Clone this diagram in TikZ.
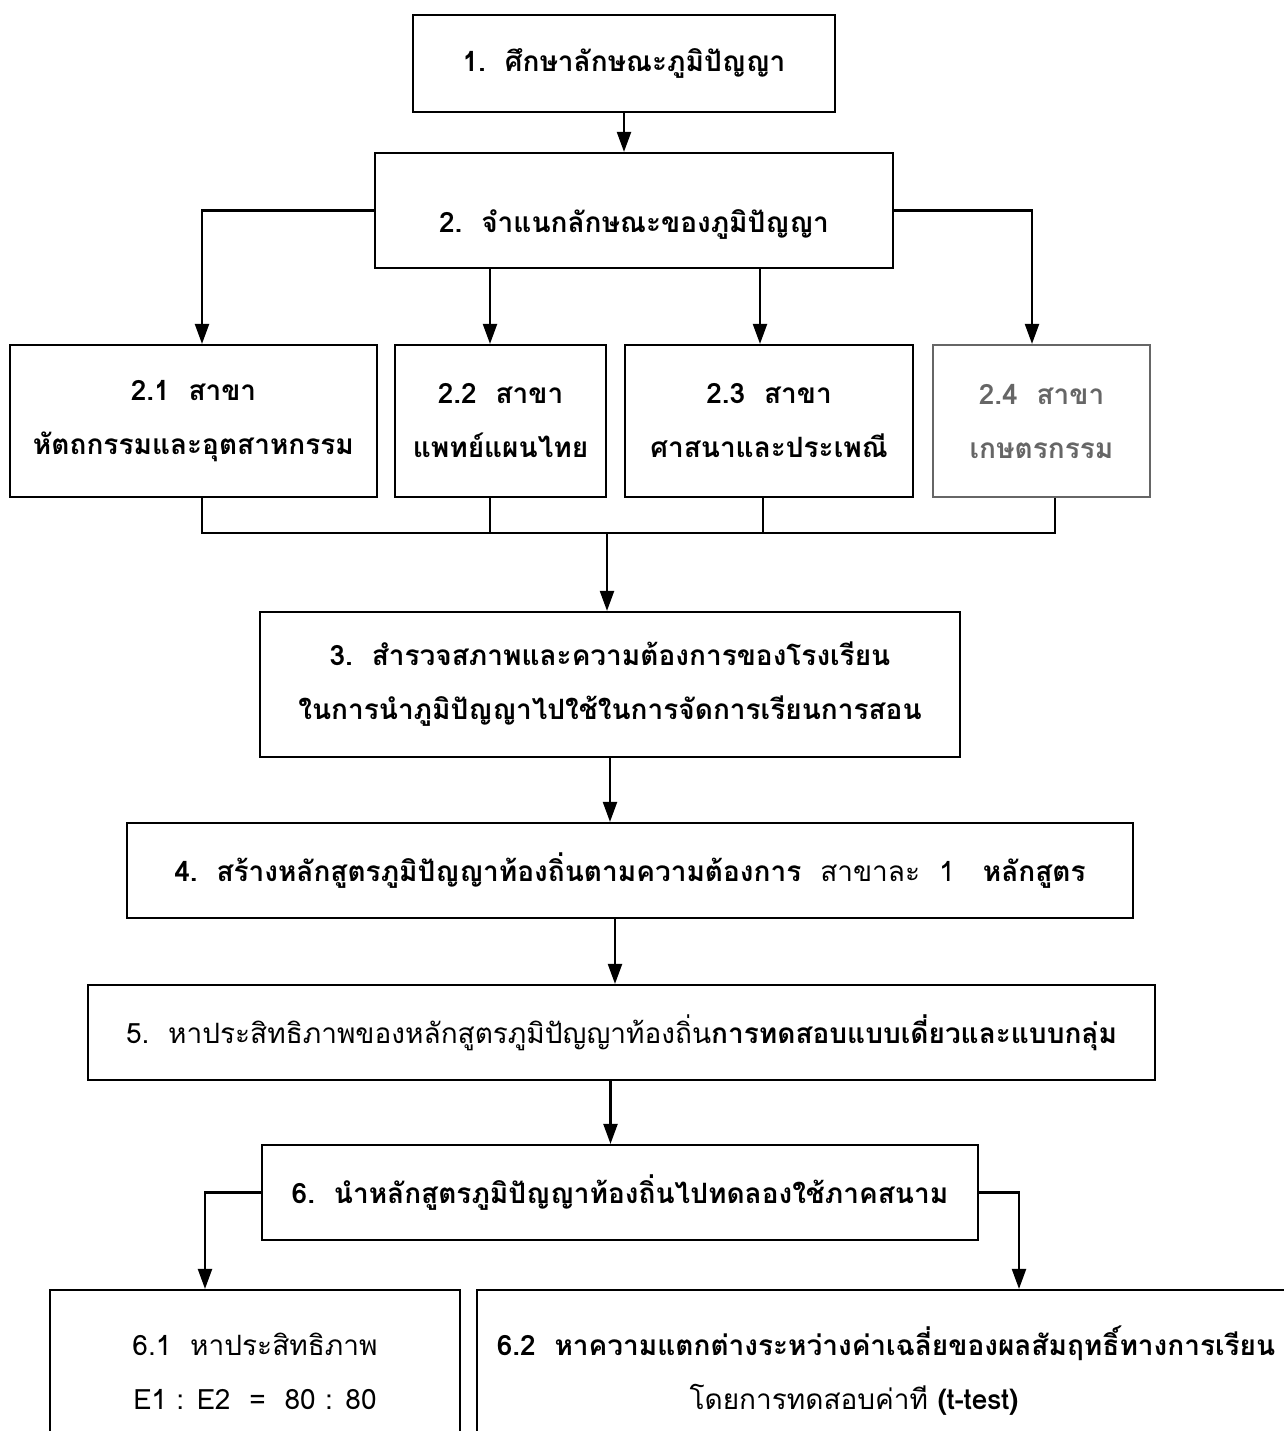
\documentclass[tikz,border=0pt]{standalone}
\usepackage{fontspec}
\usepackage{tikz}
\usetikzlibrary{positioning}
\usetikzlibrary{arrows.meta}
\newfontfamily\thaifont[Script=Thai]{Loma}

\begin{document}
\begin{tikzpicture}[
            x = 0.5pt, y = -0.5pt, % one unit = one pixel of the scan
            > = {Triangle[length=10pt, width=7pt]}, % arrow head style
            line width = 1.1pt % line style
            ]

        \tikzstyle{stagebox}=[
            draw,
            rectangle,
            align = center,
            inner sep = 2pt,
            font = \thaifont\bfseries\fontsize{14}{27}\selectfont
        ]

        \useasboundingbox (0,0) rectangle (1284,1431);
        \clip (0,0) rectangle (1284,1431);

	% study and classify
	\node[stagebox, minimum width=211pt, minimum height=48.5pt] (S1) at (624,63.5) {1.\ \ ศึกษาลักษณะภูมิปัญญา};
	\node[stagebox, minimum width=259pt, minimum height=57.5pt, text height=26pt, text depth=4pt] (S2) at (634,210.5) {2.\ \ จำแนกลักษณะของภูมิปัญญา};
	\path[->] (S1.south) edge (S1.south |- S2.north);

	% branches
	\node[stagebox, minimum width=183.5pt, minimum height=76pt] (B1) at (193.5,421) {2.1\ \ สาขา\\หัตถกรรมและอุตสาหกรรม};
	\node[stagebox, minimum width=105.5pt, minimum height=76pt] (B2) [right = 7.9pt of B1] {2.2\ \ สาขา\\แพทย์แผนไทย};
	\node[stagebox, minimum width=144pt, minimum height=76pt] (B3) [right = 8.4pt of B2] {2.3\ \ สาขา\\ศาสนาและประเพณี};
	\node[stagebox, minimum width=108.5pt, minimum height=76pt, draw=black!60, text=black!60] (B4) [right = 8.9pt of B3] {2.4\ \ สาขา\\เกษตรกรรม};

	\draw[->] (S2.west) -| ([xshift=4.25pt]B1.north);
	\draw[->] ([xshift=-5.25pt]B2.north |- S2.south) -- ([xshift=-5.25pt]B2.north);
	\draw[->] ([xshift=-4.5pt]B3.north |- S2.south) -- ([xshift=-4.5pt]B3.north);
	\draw[->] (S2.east) -| ([xshift=-4.75pt]B4.north);

	% survey
	\node[stagebox, minimum width=350pt, minimum height=72.5pt] (S3) at (610,684.5) {3.\ \ สำรวจสภาพและความต้องการของโรงเรียน\\ในการนำภูมิปัญญาไปใช้ในการจัดการเรียนการสอน};
	\coordinate (merge) at (607,533);
	\draw ([xshift=4.25pt]B1.south) |- (merge) -| ([xshift=6.75pt]B4.south);
	\draw ([xshift=-5.25pt]B2.south) -- ([xshift=-5.25pt]B2.south |- merge);
	\draw ([xshift=-3pt]B3.south) -- ([xshift=-3pt]B3.south |- merge);
	\draw[->] (merge) -- (merge |- S3.north);

	% curriculum
	\node[stagebox, minimum width=503pt, minimum height=47.5pt] (S4) at (630,870.5) {4.\ \ สร้างหลักสูตรภูมิปัญญาท้องถิ่นตามความต้องการ\ \ {\mdseries สาขาละ\ \ 1}\ \ \ หลักสูตร};
	\path[->] (S3.south) edge (S3.south |- S4.north);

	\node[stagebox, minimum width=533.5pt, minimum height=47.5pt] (S5) at (621.5,1032.5) {{\mdseries 5.\ \ หาประสิทธิภาพของหลักสูตรภูมิปัญญาท้องถิ่น}การทดสอบแบบเดี่ยวและแบบกลุ่ม};
	\path[->] ([xshift=-7.5pt]S4.south) edge ([xshift=-7.5pt]S4.south |- S5.north);

	\node[stagebox, minimum width=358pt, minimum height=47.5pt] (S6) at (620,1192.5) {6.\ \ นำหลักสูตรภูมิปัญญาท้องถิ่นไปทดลองใช้ภาคสนาม};
	\path[->] ([xshift=-5.5pt]S5.south) edge ([xshift=-5.5pt]S5.south |- S6.north);

	% field trial
	\node[stagebox, minimum width=205pt, minimum height=81pt, font=\thaifont\fontsize{14}{27}\selectfont] (T1) at (255,1371) {6.1\ \ หาประสิทธิภาพ\\E1 : E2\ \ =\ \ 80 : 80};
	\node[stagebox, minimum width=409pt, minimum height=81pt] (T2) at (886,1371) {6.2\ \ หาความแตกต่างระหว่างค่าเฉลี่ยของผลสัมฤทธิ์ทางการเรียน\\{\mdseries โดยการทดสอบค่าที} (t-test)\hspace*{32pt}};
	\draw[->] (S6.west) -| ([xshift=-25pt]T1.north);
	\draw[->] (S6.east) -| ([xshift=66.5pt]T2.north);

  \end{tikzpicture}
\end{document}
